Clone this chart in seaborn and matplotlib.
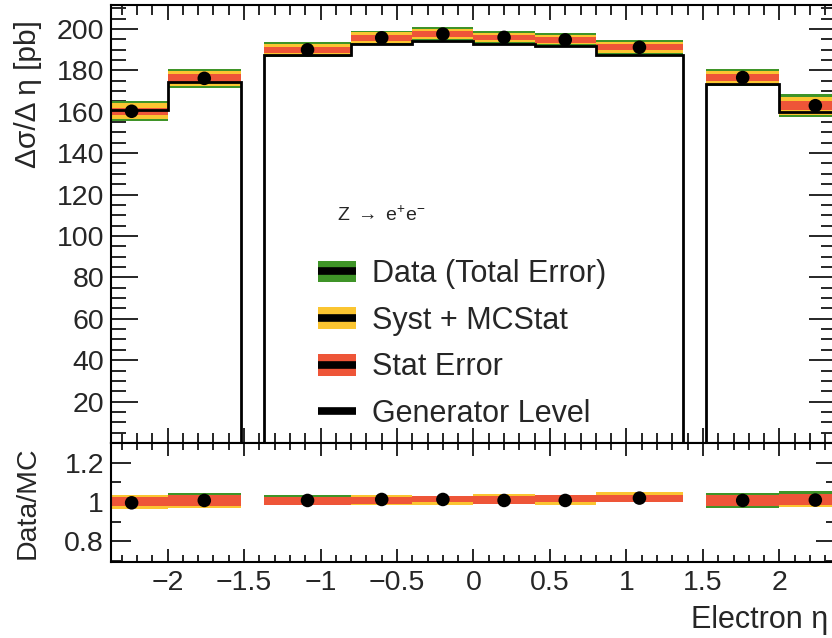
import matplotlib
matplotlib.use("Agg")
import numpy as np
import pandas as pd
import matplotlib.pyplot as plt
import seaborn as sns
from matplotlib.patches import Patch
from matplotlib.lines import Line2D
from matplotlib.ticker import MultipleLocator, FuncFormatter

sns.set_style("ticks")
plt.rcParams["font.family"] = ["Liberation Sans", "DejaVu Sans"]
plt.rcParams["mathtext.fontset"] = "custom"
plt.rcParams["mathtext.rm"] = "Liberation Sans"
plt.rcParams["mathtext.it"] = "Liberation Sans:italic"
plt.rcParams["axes.unicode_minus"] = True

# ---------------- data ----------------
bin_lo = [-2.47, -2.0, -1.37, -0.8, -0.4, 0.0, 0.4, 0.8, 1.52, 2.0]
bin_hi = [-2.0, -1.52, -0.8, -0.4, 0.0, 0.4, 0.8, 1.37, 2.0, 2.47]
xsec = [160.2, 176.1, 189.9, 195.7, 197.5, 195.9, 194.7, 191.1, 176.5, 162.9]
gen = [161.0, 174.5, 187.4, 192.6, 194.3, 192.7, 191.8, 187.2, 173.2, 160.0]
err_total = [4.8, 4.7, 3.6, 3.5, 3.2, 3.0, 3.1, 3.5, 4.0, 5.5]
err_syst = [3.8, 3.7, 2.7, 2.6, 2.3, 2.1, 2.2, 2.6, 3.0, 4.4]
err_stat = [1.8, 1.9, 1.5, 1.5, 1.3, 1.3, 1.3, 1.5, 1.7, 2.2]

ratio = [0.996, 1.008, 1.008, 1.013, 1.013, 1.008, 1.008, 1.020, 1.008, 1.010]
ratio_total_lo = [0.965, 0.972, 0.987, 0.987, 0.987, 0.992, 0.987, 0.999, 0.972, 0.976]
ratio_total_hi = [1.038, 1.047, 1.038, 1.038, 1.033, 1.043, 1.038, 1.050, 1.047, 1.055]
ratio_syst_lo = [0.965, 0.972, 0.987, 0.987, 0.987, 0.992, 0.987, 0.999, 0.982, 0.976]
ratio_syst_hi = [1.038, 1.037, 1.028, 1.038, 1.033, 1.043, 1.038, 1.050, 1.037, 1.043]
ratio_stat_lo = [0.979, 0.979, 0.987, 0.992, 0.999, 0.992, 0.999, 0.999, 0.982, 0.987]
ratio_stat_hi = [1.027, 1.037, 1.028, 1.028, 1.033, 1.033, 1.038, 1.038, 1.037, 1.043]

regions = [(0, 2), (2, 8), (8, 10)]  # contiguous eta regions (crack excluded)

labels = ["Data (Total Error)", "Syst + MCStat", "Stat Error", "Generator Level"]
process = r"Z $\rightarrow$ e$^{+}$e$^{-}$"
xlabel = "Electron η"
ylabel_main = "Δσ/Δ η [pb]"
ylabel_ratio = "Data/MC"

GREEN = "#3f9428"
YELLOW = "#fbc531"
RED = "#ee5538"

df = pd.DataFrame({
    "lo": bin_lo, "hi": bin_hi, "xsec": xsec, "gen": gen,
    "tot": err_total, "syst": err_syst, "stat": err_stat, "ratio": ratio,
})
df["center"] = 0.5 * (df["lo"] + df["hi"])
df["width"] = df["hi"] - df["lo"]

# ---------------- figure ----------------
fig = plt.figure(figsize=(8.32, 6.38), dpi=100)
L, W = 0.1334, 0.8714
ax = fig.add_axes([L, 0.3056, W, 0.6865])
axr = fig.add_axes([L, 0.1191, W, 0.1865], sharex=ax)

# main panel bands
for err, col in [("tot", GREEN), ("syst", YELLOW), ("stat", RED)]:
    ax.bar(df["lo"], 2 * df[err], bottom=df["xsec"] - df[err], width=df["width"],
           align="edge", color=col, edgecolor="none", linewidth=0, zorder=1)

# generator level histogram
for a, b in regions:
    edges = list(df["lo"][a:b]) + [df["hi"][b - 1]]
    ax.stairs(df["gen"][a:b].to_numpy(), edges, baseline=0, color="black",
              linewidth=2.0, zorder=3)

sns.scatterplot(data=df, x="center", y="xsec", ax=ax, color="black", s=95,
                edgecolor="none", zorder=5, legend=False)

# ratio panel bands
for lo, hi, col in [(ratio_total_lo, ratio_total_hi, GREEN),
                    (ratio_syst_lo, ratio_syst_hi, YELLOW),
                    (ratio_stat_lo, ratio_stat_hi, RED)]:
    lo = np.asarray(lo); hi = np.asarray(hi)
    axr.bar(df["lo"], hi - lo, bottom=lo, width=df["width"], align="edge",
            color=col, edgecolor="none", linewidth=0, zorder=1)
sns.scatterplot(data=df, x="center", y="ratio", ax=axr, color="black", s=95,
                edgecolor="none", zorder=5, legend=False)

# ---------------- axes styling ----------------
ax.set_xlim(-2.37, 2.37)
ax.set_ylim(0, 211.5)
axr.set_ylim(0.695, 1.3)


def g(v, p=None):
    s = f"{v:g}"
    return s.replace("-", "\u2212")


fmt = FuncFormatter(g)
fmt_main_y = FuncFormatter(lambda v, p: "" if abs(v) < 1e-9 else g(v))

ax.xaxis.set_major_locator(MultipleLocator(0.5))
ax.xaxis.set_minor_locator(MultipleLocator(0.1))
ax.yaxis.set_major_locator(MultipleLocator(20))
ax.yaxis.set_minor_locator(MultipleLocator(5))
ax.yaxis.set_major_formatter(fmt_main_y)
axr.xaxis.set_major_formatter(fmt)
axr.yaxis.set_major_locator(MultipleLocator(0.2))
axr.yaxis.set_minor_locator(MultipleLocator(0.1))
axr.yaxis.set_major_formatter(fmt)

TS = 20.5
tw = 1.4
ax.tick_params(axis="x", which="major", direction="in", length=10.8, width=tw,
               top=True, bottom=True, labelbottom=False)
ax.tick_params(axis="x", which="minor", direction="in", length=7, width=tw,
               top=True, bottom=True)
ax.tick_params(axis="y", which="major", direction="in", length=19.5, width=tw,
               left=True, right=True, labelsize=TS, pad=5)
ax.tick_params(axis="y", which="minor", direction="in", length=10.8, width=tw,
               left=True, right=True)
axr.tick_params(axis="x", which="major", direction="in", length=9.4, width=tw,
                top=True, bottom=True, labelsize=TS, pad=6)
axr.tick_params(axis="x", which="minor", direction="in", length=5, width=tw,
                top=True, bottom=True)
axr.tick_params(axis="y", which="major", direction="in", length=14.5, width=tw,
                left=True, right=True, labelsize=TS, pad=5)
axr.tick_params(axis="y", which="minor", direction="in", length=7, width=tw,
                left=True, right=True)

for a in (ax, axr):
    for s in a.spines.values():
        s.set_linewidth(1.5)
        s.set_color("black")
        s.set_visible(True)
    a.set_xlabel("")
    a.set_ylabel("")

ax.set_ylabel(ylabel_main, fontsize=21.5, loc="top")
ax.yaxis.set_label_coords(-0.095, 0.966)
axr.set_ylabel(ylabel_ratio, fontsize=20.5)
axr.yaxis.set_label_coords(-0.097, 0.5)
axr.set_xlabel(xlabel, fontsize=22, loc="right")
axr.xaxis.set_label_coords(0.99, -0.36)

# legend
LS = 22
def bar_line():
    return Line2D([], [], color="black", lw=5.5, solid_capstyle="butt")

handles = [
    (Patch(facecolor=GREEN, edgecolor="none"), bar_line()),
    (Patch(facecolor=YELLOW, edgecolor="none"), bar_line()),
    (Patch(facecolor=RED, edgecolor="none"), bar_line()),
    bar_line(),
]
ax.legend(handles, labels, loc="upper left", bbox_to_anchor=(0.285, 0.42),
          frameon=False, fontsize=LS, handlelength=1.24, handleheight=0.72,
          handletextpad=0.55, labelspacing=0.545, borderpad=0, borderaxespad=0)
ax.text(0.312, 0.5205, process, transform=ax.transAxes, fontsize=14,
        va="center", ha="left")

fig.savefig("out.png", dpi=100)
